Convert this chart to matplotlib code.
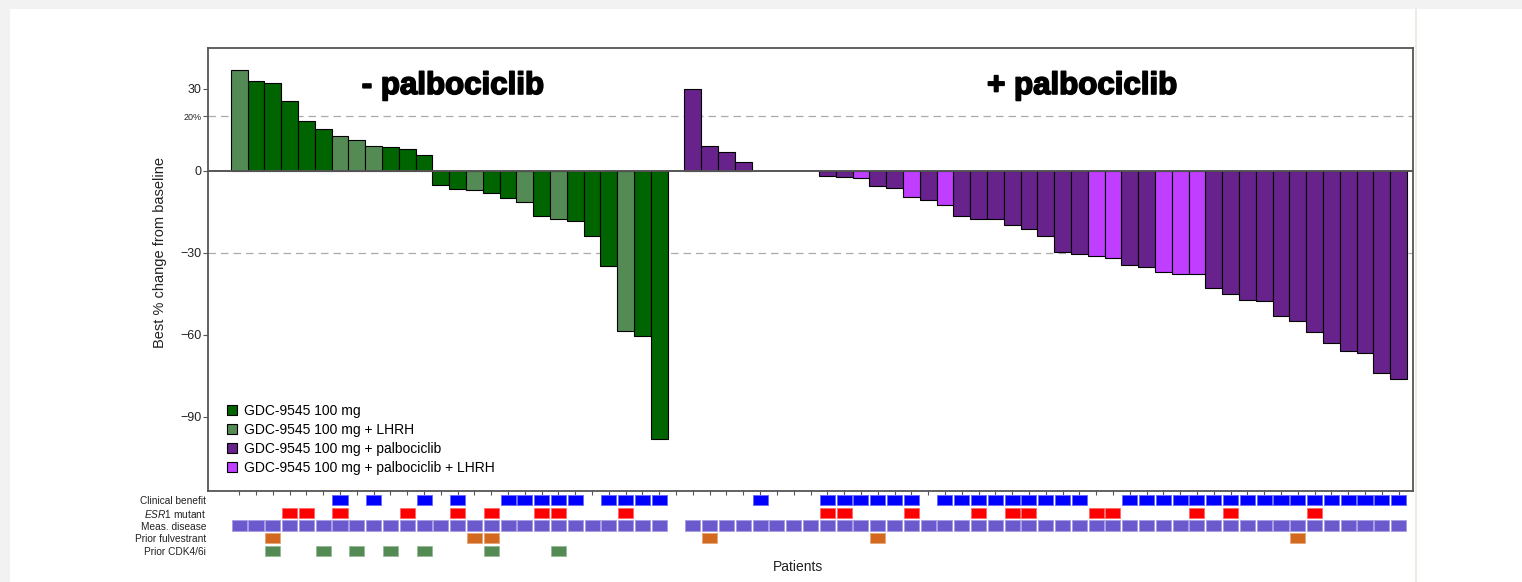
import numpy as np
import matplotlib
matplotlib.use("Agg")
import matplotlib.pyplot as plt
import matplotlib.patheffects as pe
from matplotlib.patches import Rectangle, Patch
from matplotlib.lines import Line2D
from matplotlib.colors import to_rgb

plt.rcParams['font.family'] = ['Liberation Sans', 'DejaVu Sans']
plt.rcParams['mathtext.fontset'] = 'custom'
plt.rcParams['mathtext.it'] = 'Liberation Sans:italic'
plt.rcParams['mathtext.rm'] = 'Liberation Sans'

# ---------------- data ----------------
n_no_palbo = 26  # patients in the "- palbociclib" cohort (rest are "+ palbociclib")

best_change = [
    # - palbociclib (26)
    36.8, 32.9, 32.2, 25.5, 18.2, 15.3, 12.6, 11.1, 9.0, 8.7, 7.9, 5.9,
    -5.1, -6.7, -7.1, -8.3, -9.9, -11.5, -16.5, -17.7, -18.4, -24.0, -35.0,
    -58.8, -60.4, -98.1,
    # + palbociclib (43)
    29.8, 9.0, 7.0, 3.1, np.nan, np.nan, np.nan, np.nan,
    -1.9, -2.4, -2.8, -5.5, -6.3, -9.8, -10.6, -12.5, -16.5, -17.7, -17.7,
    -20.0, -21.2, -24.0, -29.7, -30.6, -31.3, -32.1, -34.6, -35.1, -37.2,
    -37.7, -37.7, -42.8, -45.1, -47.4, -47.8, -53.3, -55.0, -58.9, -63.2,
    -65.9, -66.7, -74.0, -76.1,
]

# a: 100 mg, b: 100 mg + LHRH, c: + palbociclib, d: + palbociclib + LHRH
arm_codes = ("baaaaabbbaaaaabaababaaabaa"
             "ccccccccccdccdcdccccccccddcc" "dddcccccccccccc")

arm_labels = {
    'a': "GDC-9545 100 mg",
    'b': "GDC-9545 100 mg + LHRH",
    'c': "GDC-9545 100 mg + palbociclib",
    'd': "GDC-9545 100 mg + palbociclib + LHRH",
}
arm_colors = {'a': '#006400', 'b': '#548B54', 'c': '#68228B', 'd': '#BF3EFF'}

row_labels = ["Clinical benefit", r"$\mathit{ESR1}$ mutant", "Meas. disease",
              "Prior fulvestrant", "Prior CDK4/6i"]
row_colors = ['#0000FF', '#FF0000', '#6A5ACD', '#D2691E', '#548B54']

clinical_benefit = ("00000010100101001111101111"
                    "0000100011111101111111110011111111111111111")
esr1_mutant = ("00011010001001010011000100"
               "0000000011000100010110001100001010000100000")
meas_disease = ("11111111111111111111111111"
                "1111111111111111111111111111111111111111111")
prior_fulvestrant = ("00100000000000110000000000"
                     "0100000000010000000000000000000000001000000")
prior_cdk46i = ("00100101010100010001000000"
                "0000000000000000000000000000000000000000000")
row_flags = [clinical_benefit, esr1_mutant, meas_disease,
             prior_fulvestrant, prior_cdk46i]

n_pat = len(best_change)
assert len(arm_codes) == n_pat
for f in row_flags:
    assert len(f) == n_pat, len(f)

# slot positions (one empty slot between cohorts)
idx = np.arange(n_pat)
xpos = idx + (idx >= n_no_palbo)
vals = np.array(best_change, dtype=float)
codes = np.array(list(arm_codes))

# ---------------- figure ----------------
W, H = 1522, 582
fig = plt.figure(figsize=(W / 100, H / 100), dpi=100)
fig.patch.set_facecolor('#f2f2f2')
fig.add_artist(Rectangle((10 / W, 0), 1, 1 - 9 / H, transform=fig.transFigure,
                         facecolor='white', edgecolor='none', zorder=-5))
fig.add_artist(Line2D([1416 / W, 1416 / W], [0, 1 - 9 / H], transform=fig.transFigure,
                      color='#eeeae6', lw=1.5, zorder=-4))

ax_l, ax_r, ax_t, ax_b = 208, 1413, 48, 491
ax = fig.add_axes([ax_l / W, (H - ax_b) / H, (ax_r - ax_l) / W, (ax_b - ax_t) / H])
xlim = (-1.86, 69.86)

for c in ['a', 'b', 'c', 'd']:
    m = (codes == c) & ~np.isnan(vals)
    ax.bar(xpos[m], vals[m], width=1.0, color=arm_colors[c], edgecolor='black',
           linewidth=0.8, zorder=3)

ax.axhline(0, color='#555555', lw=1.4, zorder=4)
ax.axhline(20, color='#aaaaaa', lw=0.9, ls=(0, (6, 4)), zorder=1)
ax.axhline(-30, color='#aaaaaa', lw=0.9, ls=(0, (6, 4)), zorder=1)

ax.set_xlim(*xlim)
ax.set_ylim(-117.2, 44.9)
ax.set_xticks(np.arange(xpos.max() + 1))
ax.set_xticklabels([])
ax.set_yticks([30, 20, 0, -30, -60, -90])
ax.set_yticklabels(['30', '20%', '0', '\u221230', '\u221260', '\u221290'])
ax.tick_params(axis='x', direction='out', length=3.2, width=0.8, color='#555555')
ax.tick_params(axis='y', direction='out', length=3.6, width=0.8, color='#555555',
               labelsize=9, pad=1, labelcolor='#222222')
for lab in ax.get_yticklabels():
    if lab.get_text() == '20%':
        lab.set_fontsize(6.5)
for s in ax.spines.values():
    s.set_color('#555555')
    s.set_linewidth(1.3)

heavy = [pe.withStroke(linewidth=1.2, foreground='black')]
ax.text(12.7, 31, "- palbociclib", ha='center', va='center', fontsize=22.5,
        fontweight='bold', color='black', path_effects=heavy)
ax.text(50.15, 31, "+ palbociclib", ha='center', va='center', fontsize=22.5,
        fontweight='bold', color='black', path_effects=heavy)

handles = [Patch(facecolor=arm_colors[c], edgecolor='black', linewidth=0.8)
           for c in ['a', 'b', 'c', 'd']]
ax.legend(handles, [arm_labels[c] for c in ['a', 'b', 'c', 'd']],
          loc='upper left', bbox_to_anchor=(0.0158, 0.196), frameon=False,
          fontsize=10, borderpad=0, borderaxespad=0, handlelength=0.75,
          handleheight=0.75, handletextpad=0.5, labelspacing=0.36)

# annotation tracks
tr_top, tr_bot = 492.5, 558.5
ax2 = fig.add_axes([ax_l / W, (H - tr_bot) / H, (ax_r - ax_l) / W, (tr_bot - tr_top) / H])
ax2.set_xlim(*xlim)
ax2.set_ylim(4.6, -0.6)
for r, (flags, col) in enumerate(zip(row_flags, row_colors)):
    sel = np.array([ch == '1' for ch in flags])
    rgb = np.array(to_rgb(col))
    edge = tuple(rgb * 0.6 + 0.4)
    ax2.bar(xpos[sel], 0.8, bottom=r - 0.4, width=0.9, color=col,
            edgecolor=edge, linewidth=0.6)
ax2.set_yticks(range(len(row_labels)))
ax2.set_yticklabels(row_labels)
ax2.tick_params(axis='y', length=0, labelsize=7.3, pad=1.2, labelcolor='#222222')
ax2.set_xticks([])
for s in ax2.spines.values():
    s.set_visible(False)
ax2.patch.set_alpha(0)

fig.text(160 / W, 1 - 253 / H, "Best % change from baseline", rotation=90,
         ha='center', va='center', fontsize=10.5, color='#222222')
fig.text(798 / W, 1 - 567 / H, "Patients", ha='center', va='center',
         fontsize=10, color='#222222')

fig.savefig("out.png", dpi=100, facecolor=fig.get_facecolor())
